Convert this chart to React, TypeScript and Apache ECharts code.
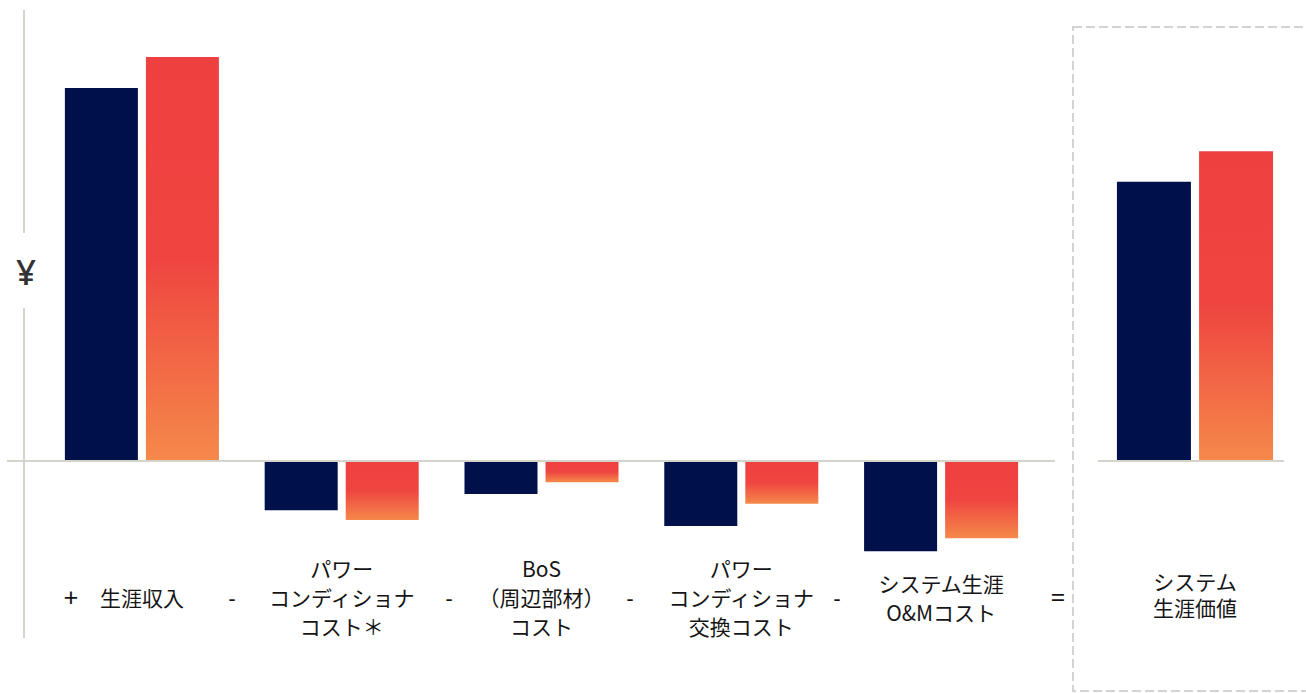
import React, { useEffect, useRef } from "react";
import * as echarts from "echarts";

// ---- data ----
const categories = [
  "生涯収入",
  "パワー\nコンディショナ\nコスト＊",
  "BoS\n（周辺部材）\nコスト",
  "パワー\nコンディショナ\n交換コスト",
  "システム生涯\nO&Mコスト",
];
const totalCategory = ["システム\n生涯価値"];
const seriesDark = [82.7, -10.9, -7.3, -14.4, -20.0];
const seriesRed = [89.6, -13.1, -4.7, -9.5, -17.1];
const totalDark = [61.9];
const totalRed = [68.7];
const operators = ["+", "-", "-", "-", "-", "="];
const yAxisName = "¥";
const yMin = -21.95;
const yMax = 100;

const FONT = "'Noto Sans CJK JP', 'Noto Sans', sans-serif";
const DARK = "#00104a";
const AXIS_GRAY = "#d4d4cc";

const redGradient = () =>
  new echarts.graphic.LinearGradient(0, 0, 0, 1, [
    { offset: 0, color: "#ef4040" },
    { offset: 0.5, color: "#ef4540" },
    { offset: 1, color: "#f5894a" },
  ]);

export default function App() {
  const ref = useRef<HTMLDivElement>(null);

  useEffect(() => {
    if (!ref.current) return;
    const chart = echarts.init(ref.current, undefined, { renderer: "svg" });

    const labelStyle = {
      color: "#151515",
      fontFamily: FONT,
      fontSize: 21,
    };

    const GRID_TOP = 10;
    const GRID_H = 550;

    const option: any = {
      animation: false,
      backgroundColor: "#ffffff",
      grid: [
        { left: 42, top: GRID_TOP, width: 999, height: GRID_H, containLabel: false, outerBoundsMode: "none" },
        { left: 1102, top: GRID_TOP, width: 186, height: GRID_H, containLabel: false, outerBoundsMode: "none" },
      ],
      xAxis: [
        {
          type: "category",
          gridIndex: 0,
          data: categories,
          axisLine: { show: false, onZero: false },
          axisTick: { show: false },
          axisLabel: {
            ...labelStyle,
            interval: 0,
            margin: 37,
            lineHeight: 29,
            verticalAlign: "middle",
            align: "center",
          },
        },
        {
          type: "category",
          gridIndex: 1,
          data: totalCategory,
          axisLine: { show: false, onZero: false },
          axisTick: { show: false },
          axisLabel: {
            ...labelStyle,
            interval: 0,
            margin: 34,
            lineHeight: 26,
            verticalAlign: "middle",
            align: "center",
          },
        },
      ],
      yAxis: [
        {
          type: "value",
          gridIndex: 0,
          min: yMin,
          max: yMax,
          axisLine: { show: false },
          axisTick: { show: false },
          axisLabel: { show: false },
          splitLine: { show: false },
        },
        {
          type: "value",
          gridIndex: 1,
          min: yMin,
          max: yMax,
          axisLine: { show: false },
          axisTick: { show: false },
          axisLabel: { show: false },
          splitLine: { show: false },
        },
      ],
      series: [
        {
          type: "bar",
          xAxisIndex: 0,
          yAxisIndex: 0,
          data: seriesDark,
          barWidth: 73,
          barGap: "11%",
          itemStyle: { color: DARK },
        },
        {
          type: "bar",
          xAxisIndex: 0,
          yAxisIndex: 0,
          data: seriesRed,
          barWidth: 73,
          barGap: "11%",
          itemStyle: { color: redGradient() },
        },
        {
          type: "bar",
          xAxisIndex: 1,
          yAxisIndex: 1,
          data: totalDark,
          barWidth: 74,
          barGap: "11%",
          itemStyle: { color: DARK },
        },
        {
          type: "bar",
          xAxisIndex: 1,
          yAxisIndex: 1,
          data: totalRed,
          barWidth: 74,
          barGap: "11%",
          itemStyle: { color: redGradient() },
        },
      ],
    };
    chart.setOption(option);

    const zeroY = chart.convertToPixel({ yAxisIndex: 0 }, 0) as number;
    const zeroY2 = chart.convertToPixel({ yAxisIndex: 1 }, 0) as number;
    const labelY = GRID_TOP + GRID_H + 37;
    const opX = [71, 232, 449, 630, 837, 1058];
    const opSize = [26, 22, 22, 22, 22, 26];

    const graphic: any[] = [
      {
        type: "rect",
        shape: { x: 1073, y: 27, width: 300, height: 664 },
        style: { fill: "none", stroke: "#d3d3d3", lineWidth: 2, lineDash: [9, 4] },
        z: 1,
      },
      {
        type: "line",
        shape: { x1: 24, y1: 10, x2: 24, y2: 233 },
        style: { stroke: AXIS_GRAY, lineWidth: 2 },
      },
      {
        type: "line",
        shape: { x1: 24, y1: 308, x2: 24, y2: 638 },
        style: { stroke: AXIS_GRAY, lineWidth: 2 },
      },
      {
        type: "text",
        x: 26,
        y: 271,
        style: {
          text: yAxisName,
          fontSize: 35,
          fontFamily: "Noto Sans",
          fontWeight: 500,
          fill: "#333333",
          align: "center",
          verticalAlign: "middle",
        },
      },
      {
        type: "line",
        shape: { x1: 7, y1: zeroY, x2: 1055, y2: zeroY },
        style: { stroke: AXIS_GRAY, lineWidth: 2 },
        z: 10,
      },
      {
        type: "line",
        shape: { x1: 1098, y1: zeroY2, x2: 1284, y2: zeroY2 },
        style: { stroke: AXIS_GRAY, lineWidth: 2 },
        z: 10,
      },
      ...operators.map((op, i) => ({
        type: "text",
        x: opX[i],
        y: labelY,
        style: {
          text: op,
          fontSize: opSize[i],
          fontFamily: "Noto Sans",
          fill: "#151515",
          align: "center",
          verticalAlign: "middle",
        },
      })),
    ];
    chart.setOption({ graphic });

    return () => chart.dispose();
  }, []);

  return (
    <div
      ref={ref}
      style={{ position: "fixed", left: 0, top: 0, width: 1306, height: 693 }}
    />
  );
}
